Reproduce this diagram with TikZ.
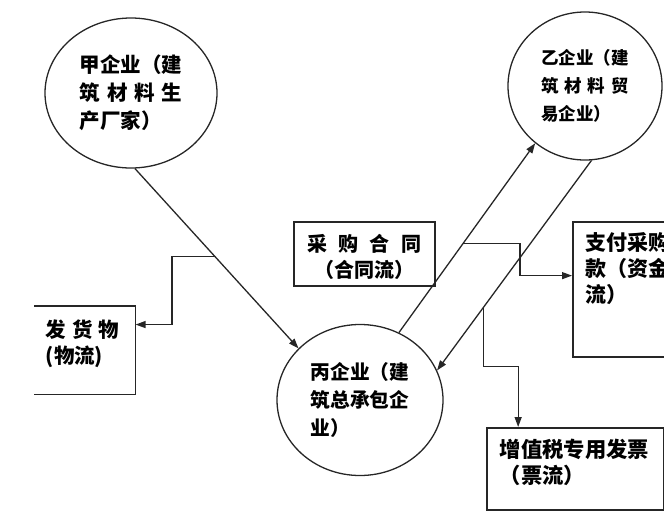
\documentclass[tikz,border=0pt]{standalone}
\usepackage{fontspec}
\setmainfont{Noto Sans CJK SC}
\usetikzlibrary{shapes.geometric,arrows.meta,calc}

% one line of glyphs spread over a fixed width
\newcommand{\spreadrow}[2][5em]{\makebox[#1][s]{#2}}

\begin{document}
\begin{tikzpicture}[
    x=1pt, y=-1pt,
    firm/.style={draw=black!85, line width=1.3pt, ellipse, align=left,
        font=\bfseries\fontsize{#1}{28}\selectfont},
    panel/.style={draw=black!85, line width=1.6pt, anchor=north west, align=left,
        inner xsep=13pt, font=\bfseries\fontsize{#1}{26}\selectfont},
    arr/.style={draw=black!85, line width=1.3pt, -{Triangle[length=10pt,width=7pt]}}
]
\useasboundingbox (0,0) rectangle (664,520);
\clip (0,0) rectangle (664,520);

% Firms
\node[firm=20.5, minimum width=172pt, minimum height=150pt] (jia) at (131,93)
    {甲企业（建\\\spreadrow{筑\hfil 材\hfil 料\hfil 生}\\产厂家）};
\node[firm=17.5, minimum width=154pt, minimum height=148pt] (yi) at (585,86)
    {乙企业（建\\\spreadrow{筑\hfil 材\hfil 料\hfil 贸}\\易企业）};
\node[firm=19.7, minimum width=166pt, minimum height=151pt] (bing) at (360,400)
    {丙企业（建\\筑总承包企\\业）};

% Flows
\node[panel=20, text width=115pt, align=center, inner ysep=12pt, text depth=23pt] (hetong) at (293,221)
    {\spreadrow[114pt]{采\hfil 购\hfil 合\hfil 同}\\（合同流）};
\node[panel=21, text width=104pt, inner ysep=11pt, text depth=95pt] (zhifu) at (572,221)
    {支付采购\\款（资金\\流）};
\node[panel=20.5, draw=none, text width=78pt, inner xsep=11pt, inner ysep=13pt, text depth=43pt] (fahuo) at (34,306)
    {\spreadrow[73pt]{发\hfil 货\hfil 物}\\(物流)};
\draw[draw=black!85, line width=1.6pt] (fahuo.north west) -- (fahuo.north east)
    -- (fahuo.south east) -- (fahuo.south west);
\node[panel=21.3, text width=151pt, inner ysep=11pt, text depth=42pt] (piao) at (486,427)
    {增值税专用发票\\（票流）};

% Connectors
\coordinate (fork1) at ($(jia.-87)!0.49!(bing.140)$);
\coordinate (fork2) at ($(bing.60)!0.47!(yi.229)$);
\coordinate (fork3) at ($(yi.275)!0.70!(bing.21)$);
\coordinate (fahuoin) at ($(fahuo.north east)!0.21!(fahuo.south east)$);
\coordinate (zhifuin) at ($(zhifu.north west)!0.40!(zhifu.south west)$);
\coordinate (piaoin) at ($(piao.north west)!0.18!(piao.north east)$);

\draw[arr] (jia.-87) -- (bing.140);
\draw[arr] (bing.60) -- (yi.229);
\draw[arr] (yi.275) -- (bing.21);
\draw[arr] (fork1) -- ++(-43,0) |- (fahuoin);
\draw[arr] (fork2) -- ++(57,0) |- (zhifuin);
\draw[arr] (fork3) -- ++(0,59) -| (piaoin);

\end{tikzpicture}
\end{document}
